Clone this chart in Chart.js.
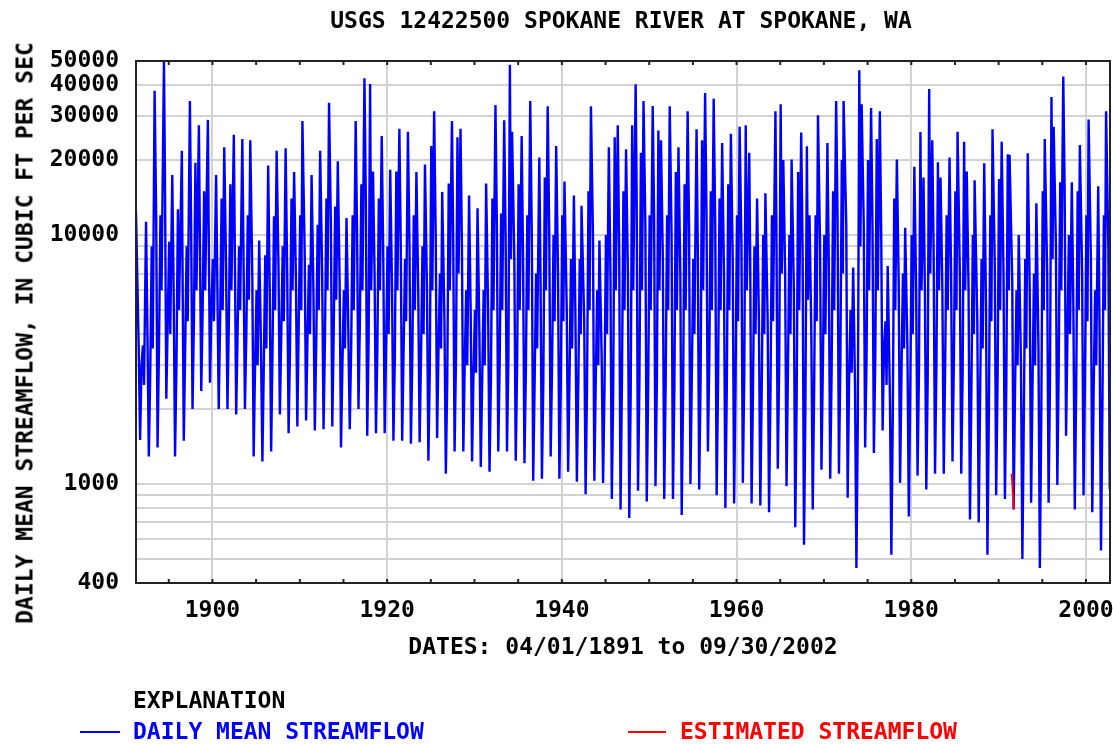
<!DOCTYPE html>
<html>
<head>
<meta charset="utf-8">
<title>USGS 12422500 Spokane River at Spokane, WA</title>
<script src="https://cdn.jsdelivr.net/npm/chart.js@4.4.1/dist/chart.umd.min.js"></script>
<style>
    body { margin: 0; background: #fff; }
    #wrap { position: relative; width: 1113px; height: 744px; background: #fff; }
    .txt {
        position: absolute;
        font: bold 23px "DejaVu Sans Mono", monospace;
        line-height: 23px;
        white-space: nowrap;
        color: #000;
    }
    .key { position: absolute; height: 2px; }
</style>
</head>
<body>
<div id="wrap">
    <canvas id="flow-chart" width="1113" height="744"></canvas>
    <div class="txt" style="left:621px;top:9px;transform:translateX(-50%)">USGS 12422500 SPOKANE RIVER AT SPOKANE, WA</div>
    <div class="txt" style="left:25px;top:333px;transform:translate(-50%,-50%) rotate(-90deg)">DAILY MEAN STREAMFLOW, IN CUBIC FT PER SEC</div>
    <div class="txt" style="left:133px;top:689px">EXPLANATION</div>
    <div class="key" style="left:80px;top:731px;width:40px;background:#0000ff"></div>
    <div class="txt" style="left:133px;top:720px;color:#0000ff">DAILY MEAN STREAMFLOW</div>
    <div class="key" style="left:628px;top:731px;width:38px;background:#ff0000"></div>
    <div class="txt" style="left:680px;top:720px;color:#ff0000">ESTIMATED STREAMFLOW</div>
</div>
<script>
const firstYear = 1891;

// winter high (Jan) and the dip before the snowmelt rise (Mar), cfs
const winterFlow = [
    null, 3600, 9000, 12000, 9400, 12700, 9000, 19500, 15000, 8000,
    14000, 16000, 9000, 12000, 6000, 8300, 11900, 9000, 14000, 12000,
    7600, 11000, 14000, 13000, 6000, 12000, 16000, 40400, 14000, 9000,
    18000, 8000, 12000, 9000, 22800, 7000, 16100, 24700, 6000, 5000,
    6000, 14000, 12200, 48300, 16000, 12000, 7000, 17000, 10000, 12000,
    8000, 8000, 15000, 6000, 10000, 24700, 15000, 27600, 21400, 12000,
    26300, 12000, 17900, 16000, 8000, 24000, 15000, 14000, 16000, 12000,
    27600, 9000, 10000, 12000, 33500, 10000, 17900, 22700, 12000, 10000,
    15000, 20000, 5000, 45900, 20000, 24300, 4500, 14000, 7000, 10000,
    25900, 38600, 19600, 12000, 15000, 23700, 10000, 8000, 12000, 16800,
    21100, 6000, 8000, 7000, 15000, 35800, 16300, 10000, 15000, 12000,
    6000, 12000
];
const dipFlow = [
    null, 2500, 3500, 6000, 4000, 5000, 4500, 6000, 6000, 4500,
    5000, 6000, 5000, 5500, 3000, 3500, 5000, 4500, 6000, 5000,
    4000, 5000, 6000, 5500, 3500, 5000, 6000, 6000, 6000, 4000,
    6000, 4500, 5000, 4000, 6000, 3500, 6000, 7000, 3000, 2800,
    3000, 5000, 5000, 8000, 5000, 5000, 3500, 6000, 4500, 4500,
    3500, 4000, 5000, 3000, 4000, 6000, 5000, 6000, 6000, 5000,
    6000, 5000, 5000, 5000, 4000, 6000, 5000, 5000, 5000, 4500,
    6000, 4000, 4000, 4500, 7000, 4000, 5000, 5500, 4500, 4000,
    5000, 7000, 2800, 9000, 6000, 6000, 2500, 5000, 3500, 4000,
    6000, 7000, 6000, 5000, 5000, 6000, 4000, 3500, 4500, 5000,
    6000, 3000, 3500, 3000, 5000, 8000, 6000, 4000, 5000, 4500,
    3000, 5000
];

// spring peak (cfs) and when in the year it came
const peakFlow = [
    12400, 11300, 38000, 50000, 17400, 21800, 34500, 27600, 29000, 17400,
    22500, 25300, 24300, 24000, 9500, 19000, 21800, 22300, 17900, 28700,
    17400, 21800, 34000, 19800, 11700, 28700, 42600, 18000, 25000, 18300,
    26700, 26000, 17900, 19200, 31400, 14900, 28700, 26700, 14400, 12800,
    16100, 33300, 28900, 26000, 25000, 34500, 20500, 32900, 22800, 16400,
    14400, 13100, 32900, 9500, 22500, 27600, 22100, 40300, 34500, 33000,
    24000, 32900, 22500, 31400, 26600, 37200, 35300, 23400, 25500, 27200,
    21400, 14000, 14700, 31400, 20000, 20100, 25800, 12000, 30300, 23400,
    34500, 34500, 7400, 33500, 32400, 31400, 7500, 20100, 10700, 18800,
    17000, 24000, 17000, 20500, 26000, 18000, 16600, 19400, 26600, 23700,
    21000, 10000, 21300, 13400, 24300, 27200, 43300, 16300, 23000, 29100,
    15700, 31400
];
const peakAt = [
    0.25, 0.40, 0.38, 0.45, 0.40, 0.50, 0.42, 0.45, 0.48, 0.42,
    0.35, 0.45, 0.42, 0.33, 0.35, 0.38, 0.35, 0.38, 0.35, 0.30,
    0.35, 0.33, 0.35, 0.35, 0.35, 0.40, 0.40, 0.38, 0.38, 0.35,
    0.40, 0.38, 0.35, 0.33, 0.38, 0.30, 0.42, 0.40, 0.38, 0.35,
    0.33, 0.40, 0.40, 0.30, 0.40, 0.38, 0.42, 0.38, 0.35, 0.30,
    0.38, 0.25, 0.33, 0.30, 0.38, 0.40, 0.35, 0.45, 0.35, 0.40,
    0.35, 0.35, 0.35, 0.40, 0.42, 0.40, 0.38, 0.35, 0.35, 0.35,
    0.45, 0.35, 0.30, 0.45, 0.35, 0.30, 0.40, 0.35, 0.32, 0.40,
    0.40, 0.25, 0.35, 0.32, 0.40, 0.40, 0.30, 0.35, 0.30, 0.35,
    0.40, 0.40, 0.35, 0.38, 0.30, 0.35, 0.25, 0.35, 0.30, 0.35,
    0.25, 0.30, 0.33, 0.32, 0.28, 0.30, 0.40, 0.38, 0.30, 0.30,
    0.40, 0.30
];

// early summer recession (Jul), cfs
const summerFlow = [
    3500, 4000, 12000, 18000, 6000, 9000, 11000, 10000, 12000, 6500,
    7500, 9000, 8000, 7000, 3500, 6000, 7500, 7000, 6500, 8500,
    6000, 7000, 11000, 6500, 4000, 10000, 14000, 7000, 8000, 6000,
    9000, 9000, 6000, 6000, 10000, 4500, 10000, 9000, 5000, 4000,
    5000, 11000, 10000, 8000, 8000, 10000, 6500, 10000, 7000, 5000,
    4500, 4500, 10000, 3200, 7000, 9000, 7000, 15000, 11000, 12000,
    8000, 10000, 7000, 11000, 9000, 12000, 11000, 7000, 8000, 9000,
    8000, 4500, 4500, 11000, 7000, 6000, 8500, 4000, 9000, 7500,
    12000, 11000, 2500, 11000, 11000, 10000, 2200, 6500, 3500, 6000,
    6000, 8500, 6000, 7000, 7000, 6000, 4500, 5000, 7500, 7000,
    6500, 3000, 6000, 3500, 7000, 9000, 15000, 5000, 7000, 8000,
    4000, 9000
];

// late summer / autumn low, cfs
const lowFlow = [
    1500, 1290, 1400, 2200, 1290, 1490, 2000, 2360, 2550, 2000,
    2000, 1900, 2000, 1290, 1230, 1350, 1900, 1600, 1700, 1800,
    1640, 1660, 1700, 1400, 1660, 2000, 1560, 1600, 1600, 1490,
    1490, 1450, 1470, 1240, 1530, 1100, 1350, 1350, 1230, 1170,
    1120, 1350, 1350, 1240, 1210, 1030, 1050, 1290, 1050, 1120,
    1020, 910, 1030, 1010, 870, 790, 730, 940, 850, 980,
    870, 870, 750, 1000, 950, 1350, 900, 800, 835, 1010,
    835, 820, 770, 1150, 980, 670, 570, 790, 1140, 1050,
    1100, 880, 460, 1400, 1330, 1640, 520, 1010, 740, 1080,
    950, 1100, 1100, 1230, 1100, 720, 700, 520, 900, 870,
    790, 500, 840, 460, 840, 990, 1560, 790, 900, 770,
    540, 950
];

// autumn rains (Nov), cfs
const fallFlow = [
    3000, 2800, 3500, 4500, 3000, 3500, 4500, 5000, 5000, 4500,
    4500, 4000, 4000, 3000, 3000, 3500, 4000, 3500, 4500, 3800,
    3600, 3800, 4000, 3000, 3500, 4500, 3800, 3500, 3500, 3200,
    3400, 3200, 3300, 2800, 3500, 2600, 3200, 3000, 2700, 2600,
    2600, 3000, 3200, 3000, 2800, 2500, 2600, 3000, 2600, 2700,
    2500, 2400, 2600, 2400, 2400, 2600, 2300, 2600, 2400, 2600,
    2500, 2400, 2300, 2700, 2600, 3200, 2500, 2400, 2500, 2700,
    2400, 2400, 2300, 3000, 2800, 2200, 2000, 2400, 3000, 2800,
    3000, 2600, 1800, 3200, 3200, 3500, 1800, 2800, 2300, 2800,
    2600, 3000, 3000, 3200, 2800, 2300, 2200, 1900, 2600, 2500,
    2400, 1800, 2500, 1800, 2600, 3000, 4000, 2400, 2600, 2400,
    2000, 2800
];

// the short stretch flagged as estimated in 1991
const estDates = [1991.5, 1991.75];
const estFlow = [1100, 790];

// axis ticks
const yTickValues = [400, 500, 600, 700, 800, 900, 1000, 2000, 3000, 4000, 5000, 6000, 7000, 8000, 9000,
    10000, 20000, 30000, 40000, 50000];
const yLabelValues = [400, 1000, 10000, 20000, 30000, 40000, 50000];
const xTickValues = [1900, 1920, 1940, 1960, 1980, 2000];
const minorYears = [1895, 1900, 1905, 1910, 1915, 1920, 1925, 1930, 1935, 1940, 1945, 1950,
    1955, 1960, 1965, 1970, 1975, 1980, 1985, 1990, 1995, 2000];

// turn the yearly readings into a running series
const flowPoints = [];
peakFlow.forEach((peak, i) => {
    const yr = firstYear + i;
    if (winterFlow[i] !== null) flowPoints.push({ x: yr + 0.05, y: winterFlow[i] });
    if (dipFlow[i] !== null) flowPoints.push({ x: yr + 0.17, y: dipFlow[i] });
    flowPoints.push({ x: yr + peakAt[i], y: peak });
    flowPoints.push({ x: yr + 0.56, y: summerFlow[i] });
    flowPoints.push({ x: yr + 0.72, y: lowFlow[i] });
    flowPoints.push({ x: yr + 0.88, y: fallFlow[i] });
});
const estPoints = estDates.map((d, i) => ({ x: d, y: estFlow[i] }));

// frame on all four sides plus the small 5-year ticks
const framePlugin = {
    id: 'frame',
    afterDatasetsDraw(chart) {
        const { ctx, chartArea: a, scales: { x } } = chart;
        ctx.save();
        ctx.strokeStyle = '#222';
        ctx.lineWidth = 2;
        ctx.strokeRect(a.left, a.top, a.right - a.left, a.bottom - a.top);
        minorYears.forEach(yr => {
            const px = x.getPixelForValue(yr);
            ctx.beginPath();
            ctx.moveTo(px, a.top);
            ctx.lineTo(px, a.top + 4);
            ctx.moveTo(px, a.bottom);
            ctx.lineTo(px, a.bottom - 4);
            ctx.stroke();
        });
        ctx.restore();
    }
};

// keep the plot box where the original has it
function noLabelPadding(axis) {
    axis.paddingLeft = 0;
    axis.paddingRight = 0;
    axis.paddingTop = 0;
    axis.paddingBottom = 0;
}

Chart.defaults.font.family = '"DejaVu Sans Mono", monospace';
Chart.defaults.font.weight = 'bold';
Chart.defaults.font.size = 23;
Chart.defaults.color = '#000';

new Chart(document.getElementById('flow-chart'), {
    type: 'line',
    data: {
        datasets: [
            {
                label: 'DAILY MEAN STREAMFLOW',
                data: flowPoints,
                borderColor: '#0000ff',
                borderWidth: 2.4,
                pointRadius: 0,
                tension: 0,
                order: 1
            },
            {
                label: 'ESTIMATED STREAMFLOW',
                data: estPoints,
                borderColor: '#ff0000',
                borderWidth: 2,
                pointRadius: 0,
                tension: 0,
                order: 0
            }
        ]
    },
    options: {
        responsive: false,
        devicePixelRatio: 1,
        animation: false,
        layout: { padding: { top: 61, right: 3, bottom: 82, left: 0 } },
        plugins: {
            legend: { display: false },
            tooltip: { enabled: false }
        },
        scales: {
            x: {
                type: 'linear',
                min: 1891.25,
                max: 2002.75,
                afterBuildTicks: axis => { axis.ticks = xTickValues.map(v => ({ value: v })); },
                afterFit: axis => { axis.height = 79; noLabelPadding(axis); },
                ticks: {
                    autoSkip: false,
                    maxRotation: 0,
                    padding: 14,
                    callback: v => String(v)
                },
                grid: { color: '#d3d3d3', lineWidth: 2, drawTicks: false },
                border: { color: '#222', width: 2 },
                title: {
                    display: true,
                    text: 'DATES: 04/01/1891 to 09/30/2002',
                    padding: { top: 0, bottom: 0 }
                }
            },
            y: {
                type: 'logarithmic',
                min: 400,
                max: 50000,
                afterBuildTicks: axis => { axis.ticks = yTickValues.map(v => ({ value: v })); },
                afterFit: axis => { axis.width = 136; noLabelPadding(axis); },
                ticks: {
                    autoSkip: false,
                    padding: 17,
                    callback: v => (yLabelValues.includes(v) ? String(v) : '')
                },
                grid: { color: '#d3d3d3', lineWidth: 2, drawTicks: false },
                border: { color: '#222', width: 2 }
            }
        }
    },
    plugins: [framePlugin]
});
</script>
</body>
</html>
